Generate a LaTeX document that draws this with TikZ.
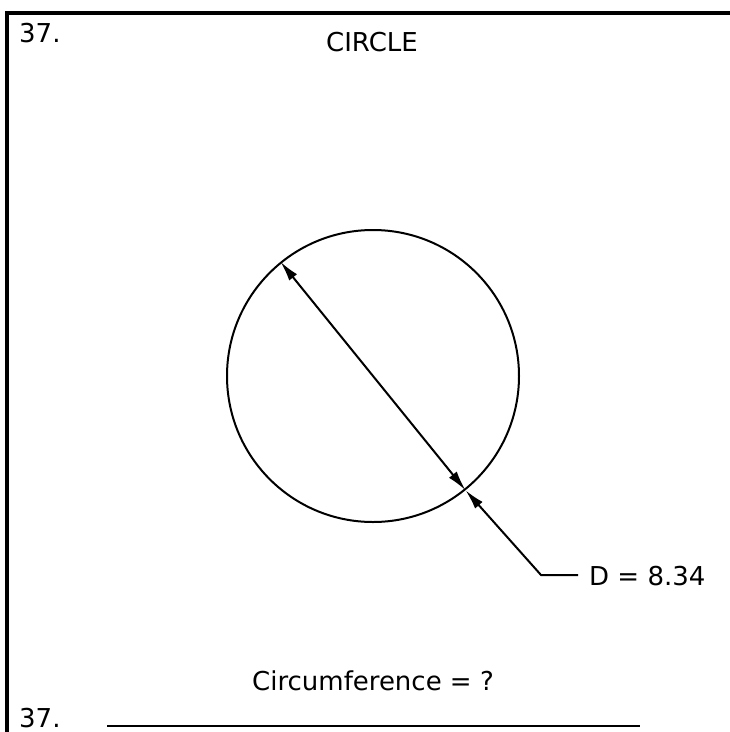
\documentclass[tikz,border=0pt]{standalone}
\usepackage{fontspec}
\setmainfont{DejaVu Sans}
\usetikzlibrary{arrows.meta}
\tikzset{
  lbl/.style={inner sep=0pt, font=\fontsize{26}{28}\selectfont},
  frame/.style={line width=4pt},
  tip/.tip={Latex[length=20pt,width=10pt]},
  dim/.style={line width=2pt, -tip},
}
\begin{document}
\begin{tikzpicture}[x=1pt,y=-1pt]
\useasboundingbox[fill=white] (0,0) rectangle (730,732);
% frame
\draw[frame] (7,732) -- (7,13) -- (730,13);
% texts
\node[lbl, anchor=base west] (n1) at (19,42) {37.};
\node[lbl, anchor=base] (title) at (372,51) {CIRCLE};
% circle
\node[draw, circle, line width=2pt, minimum size=292pt, inner sep=0pt] (c) at (373,376) {};
\coordinate (a) at (c.129.5);
\coordinate (b) at (c.309.5);
\draw[line width=2pt, tip-tip] (a) -- (b);
% leader
\node[lbl, anchor=base west] (d) at (589,585) {D = 8.34};
\coordinate (e) at (578,575);
\coordinate (k) at (541,575);
\draw[dim] (e) -- (k) -- (b);
% bottom
\node[lbl, anchor=base] (q) at (373,690) {Circumference = ?};
\node[lbl, anchor=base west] (n2) at (19,727) {37.};
\coordinate (l1) at (107,726);
\coordinate (l2) at (640,726);
\draw[line width=1.5pt] (l1) -- (l2);
\end{tikzpicture}
\end{document}
